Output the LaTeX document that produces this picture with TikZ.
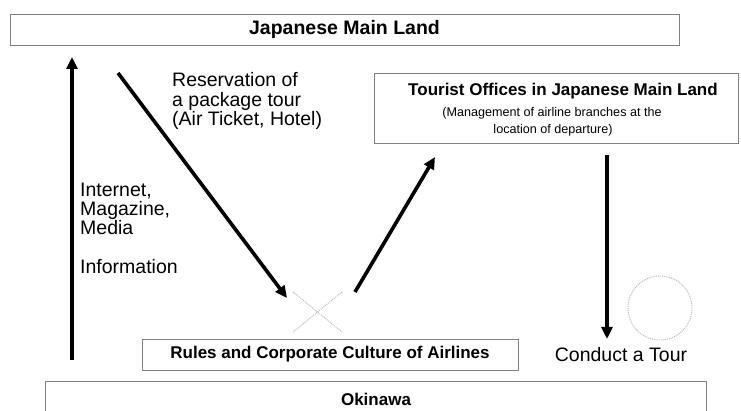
\documentclass[tikz,border=0pt]{standalone}
\usepackage{fontspec}
\setmainfont{Liberation Sans}
\usetikzlibrary{arrows.meta}
\begin{document}
\begin{tikzpicture}[x=1pt,y=-1pt,
  frame/.style={draw=black!50, line width=0.7pt, inner sep=0pt, rectangle},
  lbl/.style={inner sep=0pt, anchor=base west, font=\fontsize{19.5}{21}\selectfont},
  ttl/.style={inner sep=0pt, font=\bfseries\fontsize{17}{20}\selectfont},
  small/.style={inner sep=0pt, anchor=base, font=\fontsize{12.6}{17}\selectfont},
  flow/.style={line width=3.6pt, -{Triangle[length=12pt,width=11pt]}},
  faint/.style={draw=black!30, line width=0.9pt, densely dotted}]
\clip (0,0) rectangle (741,411);
\fill[white] (0,0) rectangle (741,411);

% boxes
\node[frame, minimum width=669pt, minimum height=31pt,
      font=\bfseries\fontsize{19.5}{21}\selectfont] (main) at (344.5,29.5) {Japanese Main Land};
\node[frame, minimum width=364pt, minimum height=70pt] (office) at (556,108) {};
\node[ttl, anchor=base] (officet) at (563,96) {Tourist Offices in Japanese Main Land};
\node[small] (offices1) at (552,117) {(Management of airline branches at the};
\node[small] (offices2) at (553,134) {location of departure)};
\node[frame, minimum width=376pt, minimum height=31pt,
      font=\bfseries\fontsize{17}{20}\selectfont] (rules) at (330,354.5) {Rules and Corporate Culture of Airlines};
\node[frame, minimum width=661pt, minimum height=59pt] (oki) at (375.5,410.5) {};
\node[ttl, anchor=base] (okit) at (376,405) {Okinawa};

% labels
\node[lbl] (res1) at (172,87) {Reservation of};
\node[lbl] (res2) at (172,107) {a package tour};
\node[lbl] (res3) at (172,126) {(Air Ticket, Hotel)};
\node[lbl] (inf1) at (80,197) {Internet,};
\node[lbl] (inf2) at (80,216) {Magazine,};
\node[lbl] (inf3) at (80,235) {Media};
\node[lbl] (inf4) at (80,274) {Information};
\node[lbl, anchor=base] (tour) at (621,361) {Conduct a Tour};

% faint marks
\draw[faint] (293,292) -- (342,332);
\draw[faint] (342,292) -- (293,332);
\node[faint, circle, minimum size=64pt, inner sep=0pt] (ring) at (660,308) {};

% arrows
\coordinate (upS) at (72,360);
\coordinate (upE) at (72,57);
\coordinate (resS) at (118,73);
\coordinate (resE) at (287,298);
\coordinate (offS) at (355,292);
\coordinate (offE) at (435,157);
\coordinate (tourS) at (607,155);
\coordinate (tourE) at (607,339);
\draw[flow] (upS) -- (upE);
\draw[flow] (resS) -- (resE);
\draw[flow] (offS) -- (offE);
\draw[flow] (tourS) -- (tourE);
\end{tikzpicture}
\end{document}
